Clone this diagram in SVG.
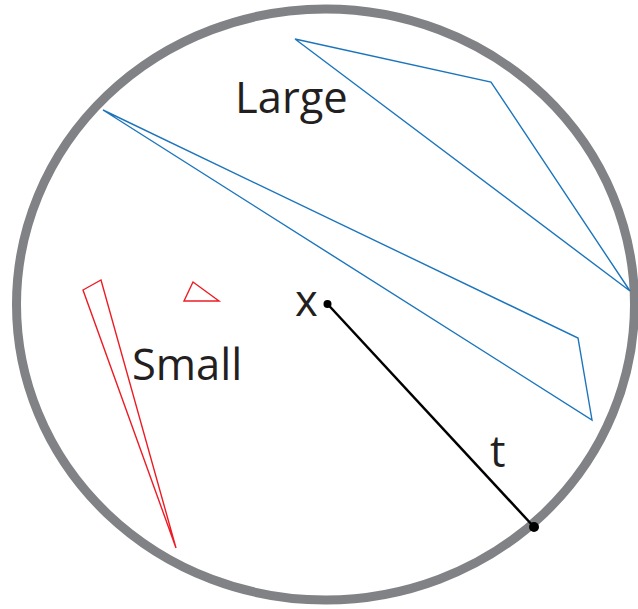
<svg xmlns="http://www.w3.org/2000/svg" width="638" height="609" viewBox="0 0 638 609">
<style>
.lg{fill:none;stroke:#1c75bc;stroke-width:1.4;stroke-linejoin:miter}
.sm{fill:none;stroke:#ed1c24;stroke-width:1.4}
.lbl{font-family:"Open Sans","Liberation Sans",sans-serif;font-size:43.5px;fill:#231f20}
</style>
<rect width="638" height="609" fill="#fff"/>
<g id="boundary"><ellipse cx="325.5" cy="304.5" rx="309" ry="295.5" fill="none" stroke="#808285" stroke-width="9"/></g>
<g id="large1"><polygon class="lg" points="295,39 491,82 630,291"/></g>
<g id="large2"><polygon class="lg" points="103,110 578,338 592,420"/></g>
<g id="small1"><polygon class="sm" points="83,290 101,280 176,548"/></g>
<g id="small2"><polygon class="sm" points="193,282 184,301 219,301"/></g>
<g id="connectors"><line x1="327.5" y1="304" x2="534" y2="527" stroke="#000" stroke-width="2.5"/></g>
<g id="points"><circle cx="327.5" cy="304" r="4"/><circle cx="534" cy="527" r="5"/></g>
<g id="labels">
<text class="lbl" x="235" y="113">Large</text>
<text class="lbl" x="132" y="380">Small</text>
<text class="lbl" x="295" y="316">x</text>
<text class="lbl" x="490" y="467">t</text>
</g>
</svg>
